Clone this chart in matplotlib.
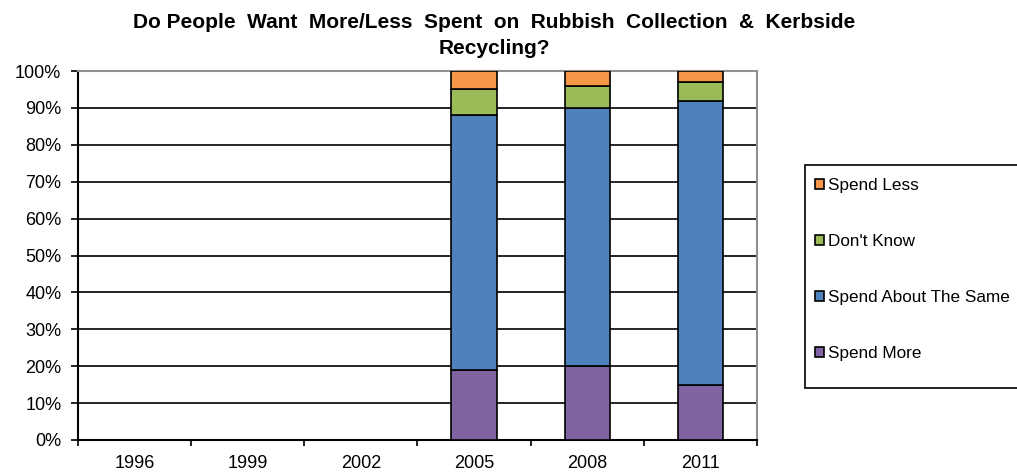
import numpy as np
import matplotlib.pyplot as plt
from matplotlib.patches import Rectangle

plt.rcParams['font.family'] = ['Liberation Sans', 'DejaVu Sans']

nan = np.nan
years = ['1996', '1999', '2002', '2005', '2008', '2011']
spend_more = [nan, nan, nan, 19, 20, 15]
spend_same = [nan, nan, nan, 69, 70, 77]
dont_know = [nan, nan, nan, 7, 6, 5]
spend_less = [nan, nan, nan, 5, 4, 3]

series = [
    ('Spend More', spend_more, '#8064A2'),
    ('Spend About The Same', spend_same, '#4F81BD'),
    ("Don't Know", dont_know, '#9BBB59'),
    ('Spend Less', spend_less, '#F79646'),
]

W, H = 1017, 475
fig = plt.figure(figsize=(W / 100, H / 100), dpi=100)
ax = fig.add_axes([78 / W, 35 / H, 679 / W, 369 / H])

x = np.arange(len(years))
bottom = np.zeros(len(years))
handles = []
for name, vals, col in series:
    vals = np.array(vals, dtype=float)
    h = ax.bar(x, vals, 0.40, bottom=bottom, color=col, edgecolor='black',
               linewidth=1.2, label=name, zorder=3)
    handles.append(h)
    bottom += vals

ax.set_xlim(-0.5, len(years) - 0.5)
ax.set_ylim(0, 100)
ax.set_yticks(np.arange(0, 101, 10))
ax.set_yticklabels([f'{v}%' for v in range(0, 101, 10)], fontsize=13)
ax.set_xticks(x)
ax.set_xticklabels(years, fontsize=13)
ax.set_xticks(np.arange(-0.5, len(years), 1), minor=True)
ax.tick_params(axis='x', which='major', length=0, pad=11)
ax.tick_params(axis='x', which='minor', length=4.5, direction='out', width=1.2)
ax.tick_params(axis='y', length=5, direction='out', width=1.2, pad=7)
ax.yaxis.grid(True, color='black', linewidth=1.2, zorder=0)

for s in ['top', 'right']:
    ax.spines[s].set_color('#909090')
    ax.spines[s].set_linewidth(1.5)
for s in ['left', 'bottom']:
    ax.spines[s].set_color('black')
    ax.spines[s].set_linewidth(1.5)

fig.text(494 / W, 1 - 13 / H,
         'Do People  Want  More/Less  Spent  on  Rubbish  Collection  &  Kerbside\nRecycling?',
         ha='center', va='top', fontsize=15, fontweight='bold', linespacing=1.45)

# legend frame runs off the right edge of the figure
fig.patches.append(Rectangle((805 / W, 1 - 388 / H), 230 / W, 223 / H,
                             transform=fig.transFigure, facecolor='white',
                             edgecolor='black', linewidth=1.2))
leg = fig.legend(handles[::-1], [s[0] for s in series][::-1],
                 loc='upper left', bbox_to_anchor=(815 / W, 1 - 178 / H),
                 frameon=False, fontsize=12.3, handlelength=0.55,
                 handleheight=0.55, handletextpad=0.2, labelspacing=2.4,
                 borderpad=0, borderaxespad=0)

fig.savefig('out.png', dpi=100)
